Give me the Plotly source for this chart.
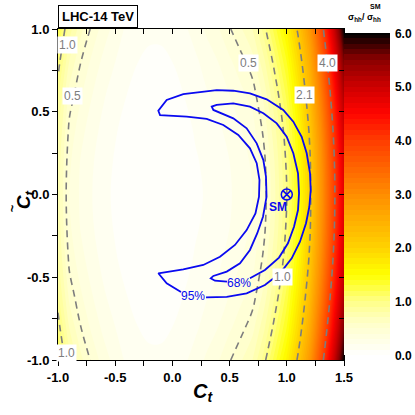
import plotly.graph_objects as go

# ---------------- data ----------------
ct = [-1.0, -0.9, -0.8, -0.7, -0.6, -0.5, -0.4, -0.3, -0.2, -0.1, 0.0, 0.1, 0.2,
      0.3, 0.4, 0.5, 0.6, 0.7, 0.8, 0.9, 1.0, 1.1, 1.2, 1.3, 1.4, 1.5]
ctt = [-1.0, -0.8, -0.6, -0.4, -0.2, 0.0, 0.2, 0.4, 0.6, 0.8, 1.0]

# sigma/sigma_SM along rows |C~t| = 0.0, 0.2, 0.4, 0.6, 0.8, 1.0 (map is symmetric in C~t)
ratio_ctt_00 = [0.75, 0.40, 0.28, 0.20, 0.13, 0.08, 0.05, 0.03, 0.02, 0.02, 0.03, 0.05, 0.08,
                0.11, 0.14, 0.19, 0.24, 0.30, 0.45, 0.70, 1.00, 1.45, 2.02, 2.85, 3.80, 4.80]
ratio_ctt_02 = [0.77, 0.42, 0.29, 0.21, 0.14, 0.09, 0.06, 0.03, 0.02, 0.02, 0.03, 0.06, 0.09,
                0.12, 0.15, 0.20, 0.25, 0.32, 0.47, 0.72, 1.03, 1.48, 2.05, 2.89, 3.84, 4.85]
ratio_ctt_04 = [0.83, 0.47, 0.34, 0.24, 0.17, 0.11, 0.07, 0.05, 0.04, 0.04, 0.05, 0.07, 0.11,
                0.14, 0.18, 0.24, 0.30, 0.36, 0.53, 0.79, 1.10, 1.56, 2.15, 3.00, 3.97, 4.99]
ratio_ctt_06 = [0.92, 0.56, 0.41, 0.30, 0.21, 0.15, 0.10, 0.07, 0.06, 0.06, 0.07, 0.10, 0.14,
                0.19, 0.23, 0.30, 0.37, 0.44, 0.63, 0.91, 1.23, 1.71, 2.31, 3.19, 4.19, 5.23]
ratio_ctt_08 = [1.06, 0.69, 0.50, 0.37, 0.27, 0.20, 0.13, 0.10, 0.08, 0.08, 0.10, 0.13, 0.18,
                0.24, 0.30, 0.38, 0.46, 0.56, 0.77, 1.07, 1.40, 1.90, 2.53, 3.45, 4.49, 5.57]
ratio_ctt_10 = [1.23, 0.85, 0.63, 0.47, 0.35, 0.26, 0.18, 0.14, 0.12, 0.12, 0.14, 0.18, 0.24,
                0.32, 0.39, 0.49, 0.59, 0.70, 0.95, 1.27, 1.63, 2.16, 2.82, 3.79, 4.87, 6.00]

dashed_levels = [0.5, 1.0, 2.1, 4.0]

# 95% CL region boundary
cl95_ct = [0.294, 0.475, 0.649, 0.809, 0.941, 1.043, 1.115, 1.168, 1.197, 1.209, 1.203,
           1.174, 1.130, 1.057, 0.969, 0.824, 0.678, 0.532, 0.387, 0.241, 0.095, -0.050,
           -0.123, -0.108, 0.008, 0.125, 0.300, 0.445, 0.576, 0.678, 0.737, 0.761, 0.757,
           0.726, 0.649, 0.547, 0.416, 0.270, 0.095, -0.038, -0.123, -0.050, 0.075]
cl95_ctt = [-0.622, -0.618, -0.597, -0.547, -0.476, -0.386, -0.285, -0.174, -0.074, 0.027,
            0.128, 0.249, 0.349, 0.440, 0.511, 0.575, 0.611, 0.627, 0.631, 0.621, 0.607,
            0.571, 0.506, 0.480, 0.474, 0.471, 0.457, 0.420, 0.360, 0.279, 0.189, 0.088,
            -0.013, -0.114, -0.215, -0.305, -0.376, -0.426, -0.453, -0.465, -0.476, -0.537,
            -0.589]
# 68% CL region boundary
cl68_ct = [0.678, 0.809, 0.932, 1.010, 1.063, 1.098, 1.107, 1.098, 1.057, 0.999, 0.912,
           0.795, 0.678, 0.532, 0.387, 0.344, 0.358, 0.416, 0.532, 0.649, 0.737, 0.795,
           0.818, 0.823, 0.792, 0.742, 0.678, 0.591, 0.475, 0.358, 0.335, 0.372, 0.477]
cl68_ctt = [-0.506, -0.456, -0.381, -0.295, -0.195, -0.094, 0.007, 0.128, 0.249, 0.349,
            0.430, 0.491, 0.531, 0.551, 0.541, 0.531, 0.511, 0.494, 0.460, 0.400, 0.309,
            0.208, 0.108, -0.013, -0.134, -0.234, -0.335, -0.416, -0.466, -0.492, -0.506,
            -0.521, -0.527]

sm_point = (1.0, 0.0)

level_label_text = ["0.5", "4.0", "2.1", "1.0", "0.5", "1.0", "1.0"]
level_label_ct = [0.661, 1.360, 1.159, 0.958, -0.869, -0.921, -0.930]
level_label_ctt = [0.795, 0.795, 0.601, -0.498, 0.595, 0.903, -0.955]

x_ticks = [-1.0, -0.5, 0.0, 0.5, 1.0, 1.5]
x_ticktext = ["-1.0", "-0.5", "0.0", "0.5", "1.0", "1.5"]
x_minor = [-0.75, -0.25, 0.25, 0.75, 1.25]
y_ticks = [-1.0, -0.5, 0.0, 0.5, 1.0]
y_ticktext = ["-1.0", "-0.5", "0.0", "0.5", "1.0"]
y_minor = [-0.75, -0.25, 0.25, 0.75]
cb_ticks = [0, 1, 2, 3, 4, 5, 6]
cb_ticktext = ["0.0", "1.0", "2.0", "3.0", "4.0", "5.0", "6.0"]

# ---------------- build ----------------
half_rows = [ratio_ctt_00, ratio_ctt_02, ratio_ctt_04, ratio_ctt_06, ratio_ctt_08, ratio_ctt_10]
z_grid = half_rows[::-1] + half_rows[1:]

FONT = "Liberation Sans Narrow, Liberation Sans, Arial, sans-serif"
BLUE = "rgb(10,10,240)"
GREY = "rgb(125,125,125)"

colorscale = [
    [0.00, "rgb(255,255,255)"],
    [0.10, "rgb(255,255,200)"],
    [0.167, "rgb(255,255,135)"],
    [0.25, "rgb(255,255,0)"],
    [0.33, "rgb(255,212,0)"],
    [0.50, "rgb(255,140,0)"],
    [0.667, "rgb(255,60,0)"],
    [0.75, "rgb(255,5,0)"],
    [0.833, "rgb(205,0,0)"],
    [0.92, "rgb(135,0,0)"],
    [1.00, "rgb(0,0,0)"],
]

fig = go.Figure()

fig.add_trace(go.Contour(
    x=ct, y=ctt, z=z_grid,
    zmin=0, zmax=6, zauto=False,
    colorscale=colorscale,
    contours=dict(start=0, end=6, size=0.1, coloring="fill", showlines=False),
    line=dict(width=0),
    hoverinfo="skip",
    colorbar=dict(
        x=1.0, xanchor="left", xpad=0, ypad=0,
        y=0.5, yanchor="middle", len=0.973, lenmode="fraction",
        thickness=46, thicknessmode="pixels",
        outlinewidth=0,
        tickmode="array", tickvals=cb_ticks, ticktext=cb_ticktext,
        ticks="outside", ticklen=3, tickcolor="rgba(0,0,0,0)",
        tickfont=dict(family=FONT, size=12, color="black", weight="bold"),
    ),
))

for lv in dashed_levels:
    fig.add_trace(go.Contour(
        x=ct, y=ctt, z=z_grid,
        contours=dict(start=lv, end=lv, size=1, coloring="none"),
        line=dict(color=GREY, width=1.6, dash="7px,5px"),
        showscale=False, hoverinfo="skip",
    ))

fig.add_trace(go.Scatter(x=cl95_ct, y=cl95_ctt, mode="lines",
                         line=dict(color=BLUE, width=1.8),
                         showlegend=False, hoverinfo="skip"))
fig.add_trace(go.Scatter(x=cl68_ct, y=cl68_ctt, mode="lines",
                         line=dict(color=BLUE, width=1.8),
                         showlegend=False, hoverinfo="skip"))
fig.add_trace(go.Scatter(x=[sm_point[0]], y=[sm_point[1]], mode="markers",
                         marker=dict(symbol="circle-x-open", size=11,
                                     color=BLUE, line=dict(width=1.5)),
                         showlegend=False, hoverinfo="skip"))
# dummy trace for the inner (mirrored) tick axes
fig.add_trace(go.Scatter(x=[None], y=[None], xaxis="x2", yaxis="y2",
                         showlegend=False, hoverinfo="skip"))

annotations = []
for t, xx, yy in zip(level_label_text, level_label_ct, level_label_ctt):
    annotations.append(dict(x=xx, y=yy, xref="x", yref="y", text=t, showarrow=False,
                            font=dict(family=FONT, size=12, color=GREY),
                            bgcolor="white", borderpad=1))
annotations += [
    dict(x=0.926, y=-0.077, xref="x", yref="y", text="SM", showarrow=False,
         font=dict(family=FONT, size=12, color=BLUE, weight="bold")),
    dict(x=0.582, y=-0.532, xref="x", yref="y", text="68%", showarrow=False,
         font=dict(family=FONT, size=12, color=BLUE)),
    dict(x=0.180, y=-0.613, xref="x", yref="y", text="95%", showarrow=False,
         font=dict(family=FONT, size=12, color=BLUE)),
    dict(x=0.0, y=1.039, xref="paper", yref="paper", xanchor="left", yanchor="middle",
         text="LHC-14 TeV", showarrow=False, bgcolor="white", bordercolor="black",
         borderwidth=1, borderpad=3,
         font=dict(family=FONT, size=13, color="black", weight="bold")),
    dict(x=0.268, y=-0.097, xref="x", yref="paper", yanchor="middle",
         text="<i><b>C</b></i><sub><i><b>t</b></i></sub>", showarrow=False,
         font=dict(family=FONT, size=20, color="black")),
    # y-axis title: C~_t (rotated), tilde drawn above the C
    dict(x=-0.162, y=-0.03, xref="paper", yref="y", textangle=-90,
         text="<i><b>C</b></i><sub><i><b>t</b></i></sub>", showarrow=False,
         font=dict(family=FONT, size=19, color="black")),
    dict(x=-0.192, y=-0.085, xref="paper", yref="y", textangle=-90,
         text="<b>~</b>", showarrow=False,
         font=dict(family=FONT, size=13, color="black")),
    dict(x=1.072, y=1.035, xref="paper", yref="paper", xanchor="center", yanchor="middle",
         text="σ<sub>hh</sub>/ σ<sub>hh</sub>", showarrow=False,
         font=dict(family=FONT, size=9, color="black", weight="bold")),
    dict(x=1.11, y=1.068, xref="paper", yref="paper", xanchor="center", yanchor="middle",
         text="SM", showarrow=False,
         font=dict(family=FONT, size=7, color="black", weight="bold")),
]

tickfont = dict(family=FONT, size=13, color="black", weight="bold")
fig.update_layout(
    width=415, height=415,
    margin=dict(l=58, r=71, t=29, b=55, autoexpand=False),
    paper_bgcolor="white", plot_bgcolor="white",
    showlegend=False,
    xaxis=dict(range=[-1.0, 1.5], tickmode="array", tickvals=x_ticks, ticktext=x_ticktext,
               ticks="outside", ticklen=5, tickwidth=1, tickcolor="black",
               minor=dict(tickmode="array", tickvals=x_minor, ticks="outside",
                          ticklen=5, tickwidth=1, tickcolor="black"),
               showline=True, linecolor="black", linewidth=1, mirror=True,
               showgrid=False, zeroline=False, tickfont=tickfont, layer="above traces"),
    yaxis=dict(range=[-1.0, 1.0], tickmode="array", tickvals=y_ticks, ticktext=y_ticktext,
               ticks="outside", ticklen=5, tickwidth=1, tickcolor="black",
               minor=dict(tickmode="array", tickvals=y_minor, ticks="outside",
                          ticklen=5, tickwidth=1, tickcolor="black"),
               showline=True, linecolor="black", linewidth=1, mirror=True,
               showgrid=False, zeroline=False, tickfont=tickfont, layer="above traces"),
    xaxis2=dict(range=[-1.0, 1.5], overlaying="x", side="top", anchor="y",
                tickmode="array", tickvals=x_ticks, ticks="inside", ticklen=5,
                tickcolor="black", showticklabels=False, showline=False,
                minor=dict(tickmode="array", tickvals=x_minor, ticks="inside",
                           ticklen=5, tickcolor="black"),
                showgrid=False, zeroline=False),
    yaxis2=dict(range=[-1.0, 1.0], overlaying="y", side="right", anchor="x",
                tickmode="array", tickvals=y_ticks, ticks="inside", ticklen=5,
                tickcolor="black", showticklabels=False, showline=False,
                minor=dict(tickmode="array", tickvals=y_minor, ticks="inside",
                           ticklen=5, tickcolor="black"),
                showgrid=False, zeroline=False),
    annotations=annotations,
)

fig.write_html("out.html",
               config={"displayModeBar": False},
               post_script="document.body.style.margin='0px';document.body.style.padding='0px';")
